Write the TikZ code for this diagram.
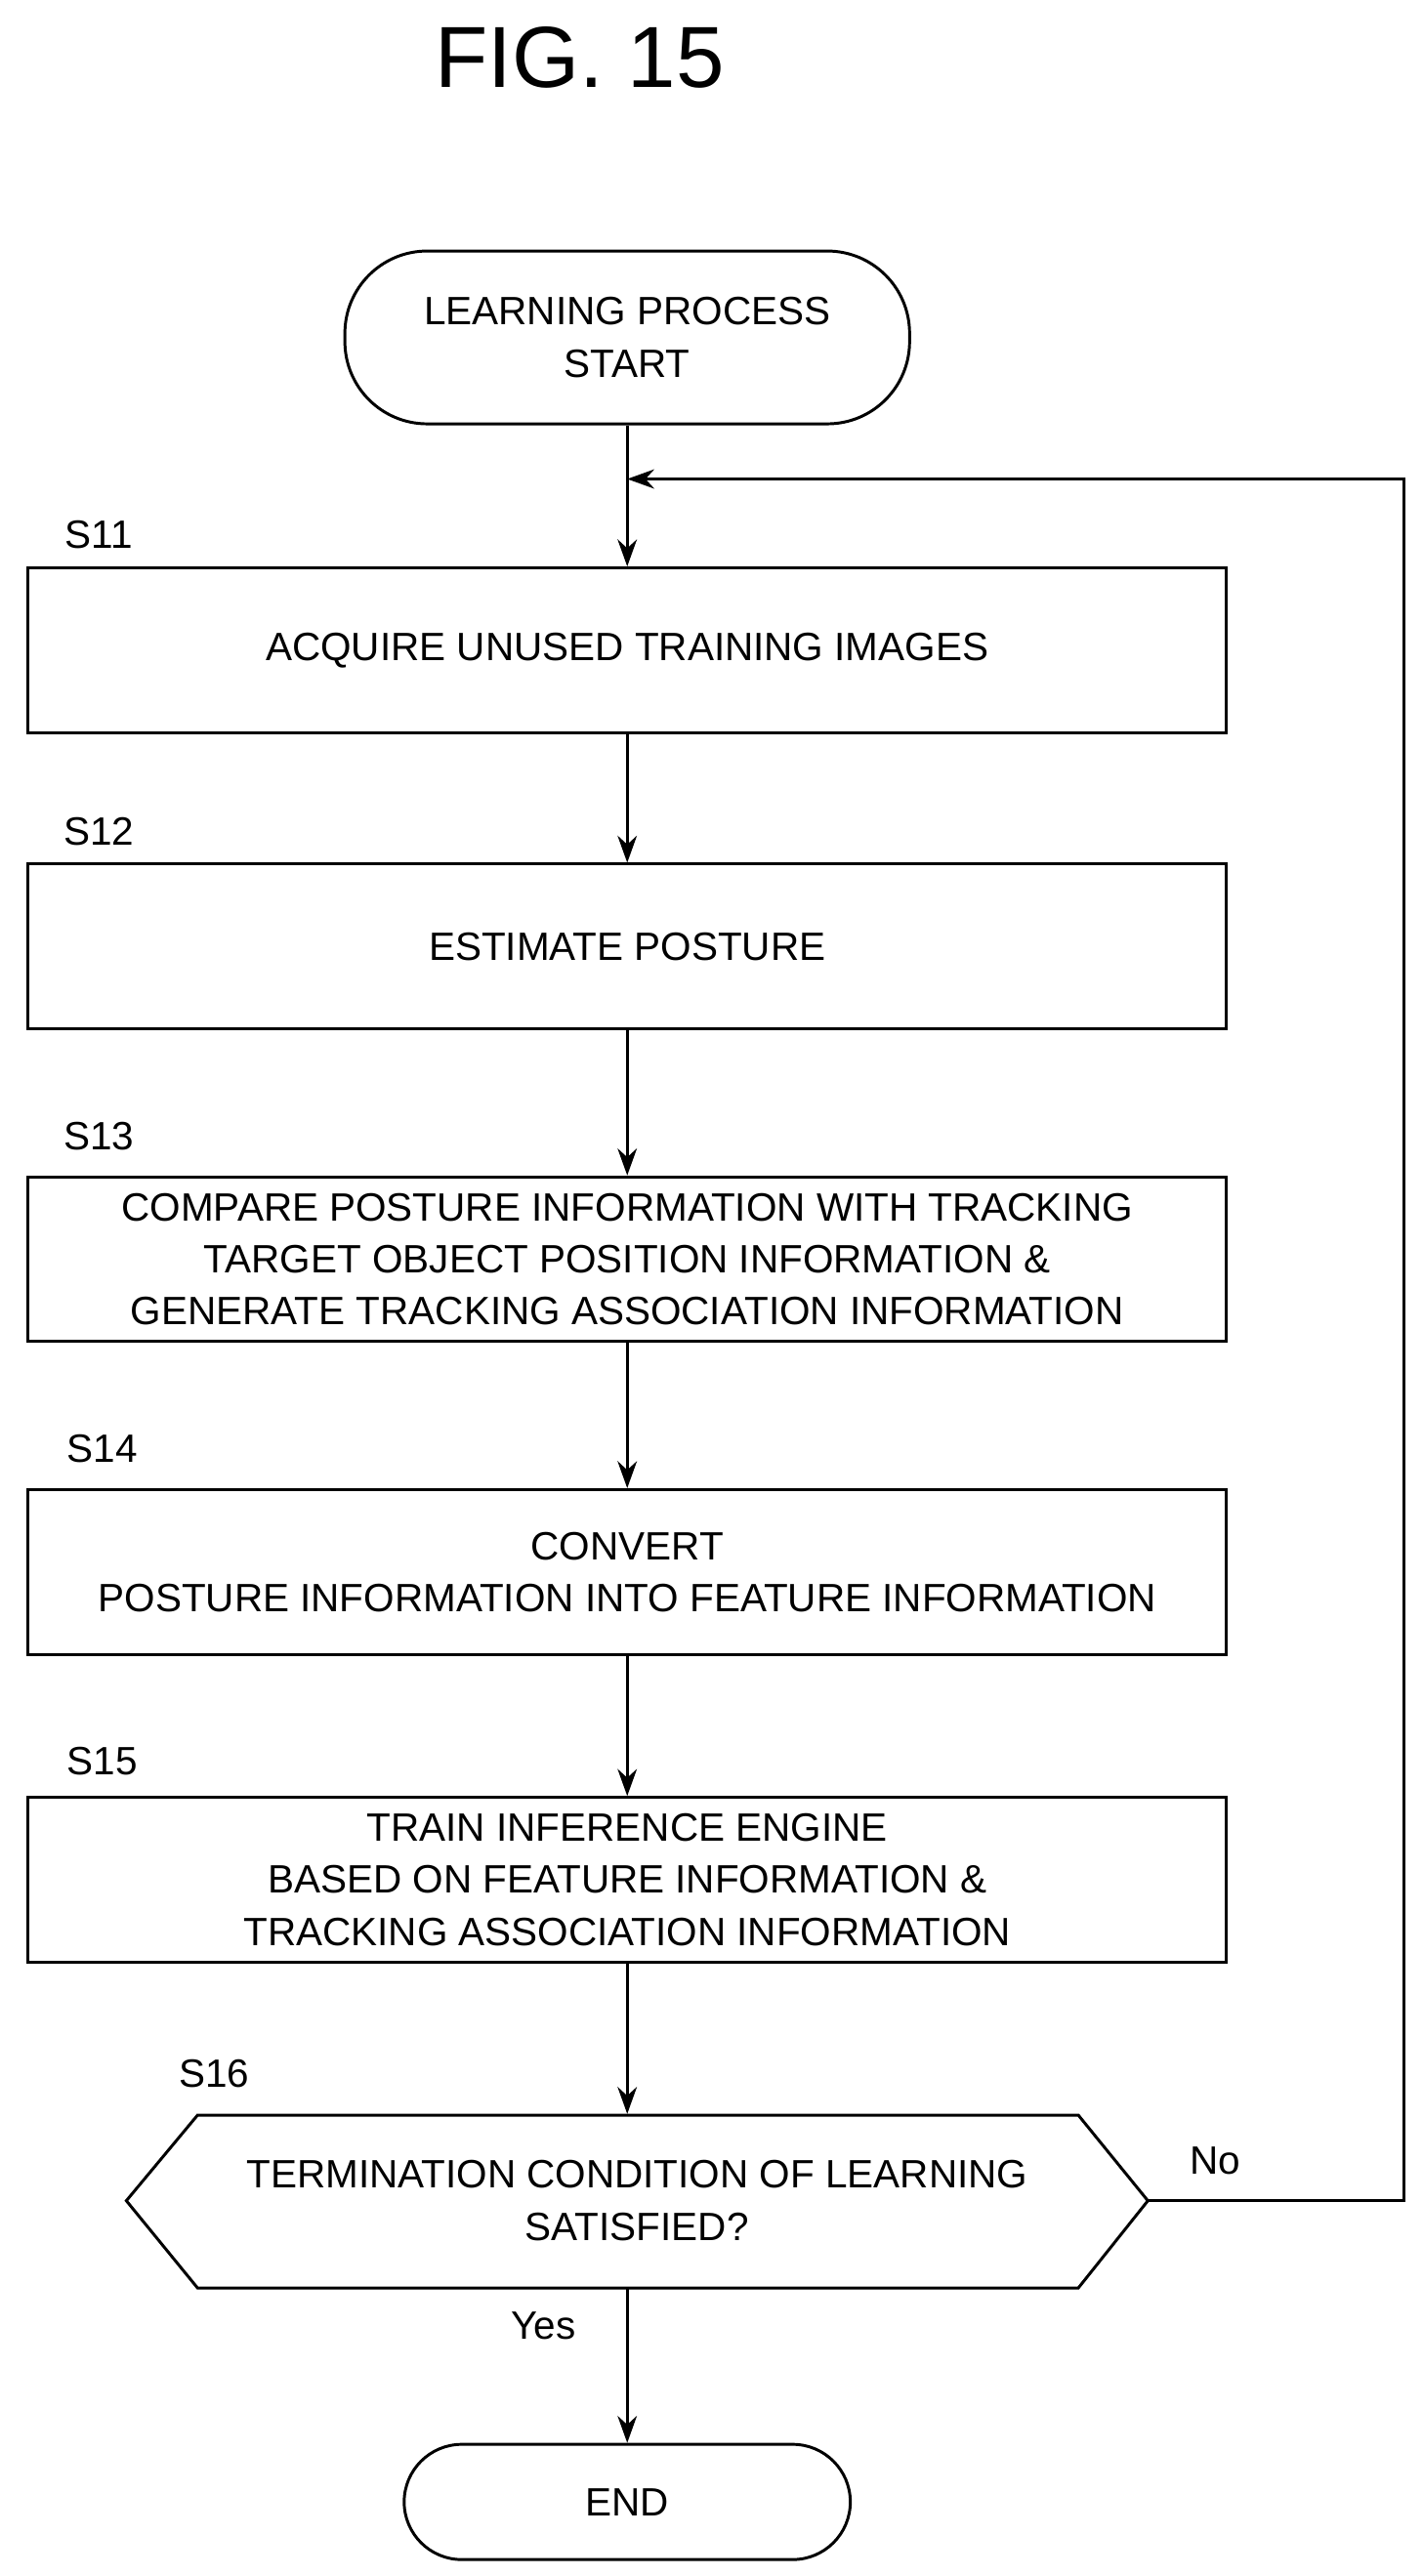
\documentclass[tikz,border=0pt]{standalone}
\usepackage{fontspec}
\setmainfont{Liberation Sans}
\usetikzlibrary{arrows.meta}
\begin{document}
\begin{tikzpicture}[x=0.03cm,y=-0.03cm,
    every node/.style={font=\fontsize{20.5}{27}\selectfont, align=center},
    proc/.style={draw, line width=1.5pt, minimum width=21.84cm, minimum height=3cm, inner sep=0pt},
    term/.style={draw, line width=1.5pt, rounded corners=1.5cm, inner sep=0pt},
    lbl/.style={anchor=center},
    flow/.style={line width=1.5pt, -{Stealth[length=14pt,width=10pt]}}]
  \useasboundingbox (0,0) rectangle (864,1565);
  \node (fig) at (352,35) {\fontsize{45}{52}\selectfont FIG. 15};
  % start / end
  \node[term, minimum width=10.29cm, minimum height=3.15cm] (start) at (381,205) {LEARNING PROCESS\\START};
  \node[term, rounded corners=1.05cm, minimum width=8.13cm, minimum height=2.1cm] (end) at (381,1520) {END};
  % process steps
  \node[proc] (s11) at (381,395) {ACQUIRE UNUSED TRAINING IMAGES};
  \node[proc] (s12) at (381,575) {ESTIMATE POSTURE};
  \node[proc] (s13) at (381,765) {COMPARE POSTURE INFORMATION WITH TRACKING\\TARGET OBJECT POSITION INFORMATION \&\\GENERATE TRACKING ASSOCIATION INFORMATION};
  \node[proc] (s14) at (381,955) {CONVERT\\POSTURE INFORMATION INTO FEATURE INFORMATION};
  \node[proc] (s15) at (381,1142) {TRAIN INFERENCE ENGINE\\BASED ON FEATURE INFORMATION \&\\TRACKING ASSOCIATION INFORMATION};
  % decision
  \node[minimum width=18.6cm, minimum height=3.15cm, inner sep=0pt] (s16) at (387,1337) {TERMINATION CONDITION OF LEARNING\\SATISFIED?};
  \draw[line width=1.5pt] (s16.west) -- (120,1285) -- (655,1285) -- (s16.east) -- (655,1390) -- (120,1390) -- cycle;
  % step labels
  \node[lbl] at (60,325) {S11};
  \node[lbl] at (60,505) {S12};
  \node[lbl] at (60,690) {S13};
  \node[lbl] at (62,880) {S14};
  \node[lbl] at (62,1070) {S15};
  \node[lbl] at (130,1260) {S16};
  \node[lbl] at (738,1313) {No};
  \node[lbl] at (330,1413) {Yes};
  % connectors
  \coordinate (loop) at (381,291);
  \draw[flow] (start) -- (s11);
  \draw[flow] (s11) -- (s12);
  \draw[flow] (s12) -- (s13);
  \draw[flow] (s13) -- (s14);
  \draw[flow] (s14) -- (s15);
  \draw[flow] (s15.south) -- (s15.south |- s16.north);
  \draw[flow] (s16.south -| end.north) -- (end);
  \draw[flow] (s16.east) -- (853,1337) -- (853,291) -- (loop);
\end{tikzpicture}
\end{document}
